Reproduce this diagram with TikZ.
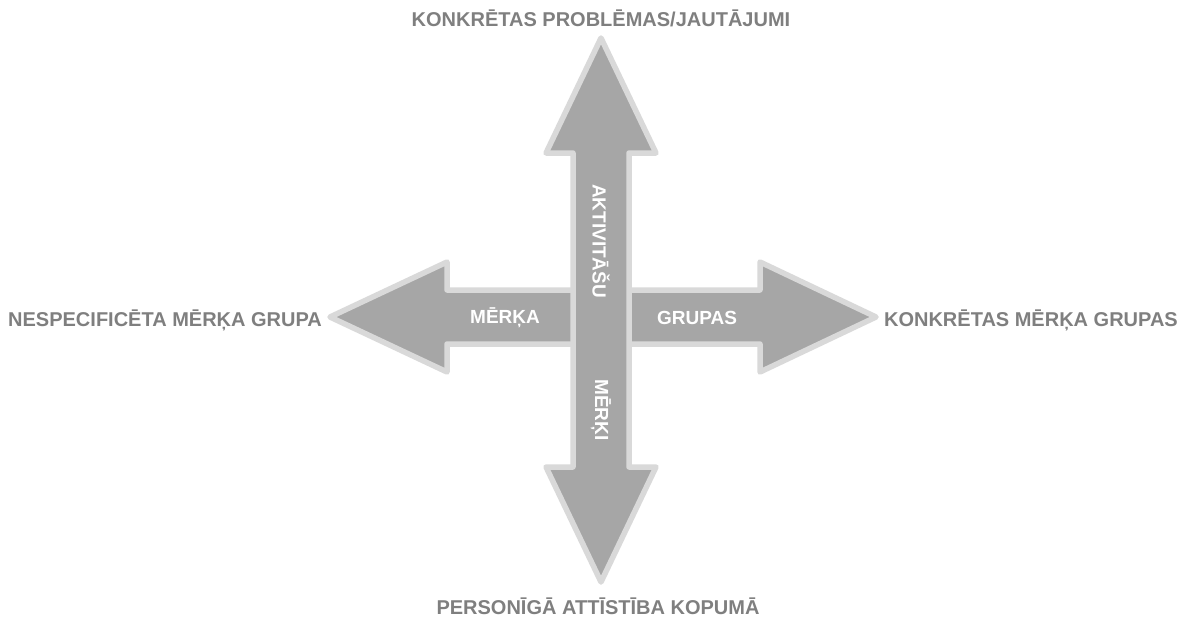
\documentclass[tikz,border=0pt]{standalone}
\usepackage{fontspec}
\setmainfont{Liberation Sans}
\definecolor{arrowfill}{HTML}{A6A6A6}
\definecolor{arrowedge}{HTML}{D9D9D9}
\definecolor{labelgray}{HTML}{7F7F7F}
\begin{document}
\begin{tikzpicture}[x=1pt,y=-1pt,
  bigarrow/.style={fill=arrowfill,draw=arrowedge,line width=5.5pt,line join=round},
  outlabel/.style={text=labelgray,font=\bfseries\fontsize{20}{22}\selectfont,inner sep=0pt},
  inlabel/.style={text=white,font=\bfseries\fontsize{19}{21}\selectfont,inner sep=0pt}]
\useasboundingbox (0,0) rectangle (1182,621);
% horizontal double arrow
\draw[bigarrow] (330,317) -- (447,262) -- (447,290) -- (760,290) -- (760,262)
  -- (876,317) -- (760,372) -- (760,344) -- (447,344) -- (447,372) -- cycle;
% vertical double arrow
\draw[bigarrow] (601,38) -- (656,153) -- (629,153) -- (629,467) -- (656,467)
  -- (601,582) -- (546,467) -- (573,467) -- (573,153) -- (546,153) -- cycle;
% outer labels
\node[outlabel] (top) at (601,18) {KONKRĒTAS PROBLĒMAS/JAUTĀJUMI};
\node[outlabel] (bottom) at (598,606) {PERSONĪGĀ ATTĪSTĪBA KOPUMĀ};
\node[outlabel,anchor=west] (left) at (8,320) {NESPECIFICĒTA MĒRĶA GRUPA};
\node[outlabel,anchor=east] (right) at (1178,320) {KONKRĒTAS MĒRĶA GRUPAS};
% inner labels
\node[inlabel] (merka) at (505,318) {MĒRĶA};
\node[inlabel] (grupas) at (697,318) {GRUPAS};
\node[inlabel,rotate=-90] (aktiv) at (601,241) {AKTIVITĀŠU};
\node[inlabel,rotate=-90] (merki) at (601,410) {MĒRĶI};
\end{tikzpicture}
\end{document}
